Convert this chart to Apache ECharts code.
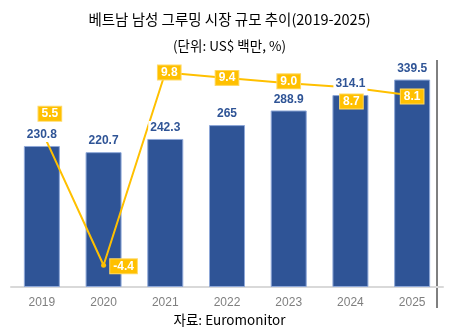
<!DOCTYPE html>
<html>
<head>
<meta charset="utf-8">
<script src="https://cdn.jsdelivr.net/npm/echarts@6/dist/echarts.min.js"></script>
<style>html,body{margin:0;padding:0;background:#fff}#c{width:459px;height:334px}</style>
</head>
<body>
<div id="c"></div>
<script>
const categories = ['2019','2020','2021','2022','2023','2024','2025'];
const marketSize = [230.8, 220.7, 242.3, 265, 288.9, 314.1, 339.5];
const growthRate = [5.5, -4.4, 9.8, 9.4, 9.0, 8.7, 8.1];
const growthLabelOffsets = [[8,-17],[20,1],[4,0],[0,0],[0,-2],[1,14],[0,1]];

const chart = echarts.init(document.getElementById('c'));
const navy = '#2F5496';
const gold = '#FFC000';

chart.setOption({
  animation: false,
  grid: {left: 11, right: 16, top: 42.6, bottom: 47},
  xAxis: {
    type: 'category',
    data: categories,
    axisLine: {lineStyle: {color: '#D9D9D9', width: 2}},
    axisTick: {show: false},
    axisLabel: {color: '#7F7F7F', fontSize: 12, margin: 10, fontFamily: 'Liberation Sans'}
  },
  yAxis: [
    {type: 'value', min: 0, max: 400, show: false, splitLine: {show: false}},
    {type: 'value', min: -6, max: 12, show: false, splitLine: {show: false}}
  ],
  series: [
    {
      type: 'bar',
      data: marketSize,
      yAxisIndex: 0,
      barWidth: 36,
      z: 1,
      itemStyle: {color: navy, borderColor: '#8FA8D8', borderWidth: 1}
    },
    {
      type: 'line',
      data: growthRate.map((v, i) => ({
        value: v,
        label: {offset: growthLabelOffsets[i]}
      })),
      yAxisIndex: 1,
      z: 3,
      symbol: 'circle',
      symbolSize: 5,
      lineStyle: {color: gold, width: 2},
      itemStyle: {color: gold},
      label: {
        show: true,
        position: 'inside',
        color: '#fff',
        fontWeight: 'bold',
        fontSize: 12,
        fontFamily: 'Liberation Sans',
        lineHeight: 12,
        backgroundColor: gold,
        borderColor: '#FFD966',
        borderWidth: 1,
        padding: [1, 3],
        formatter: p => p.value.toFixed(1)
      }
    },
    {
      type: 'bar',
      data: marketSize,
      yAxisIndex: 0,
      barWidth: 36,
      barGap: '-100%',
      z: 5,
      silent: true,
      itemStyle: {color: 'rgba(0,0,0,0)'},
      label: {
        show: true,
        position: 'top',
        distance: 4,
        color: navy,
        fontWeight: 'bold',
        fontSize: 12,
        fontFamily: 'Liberation Sans',
        backgroundColor: '#fff',
        padding: [1, 2],
        formatter: p => String(p.value)
      }
    }
  ],
  graphic: [
    {type: 'text', left: 'center', top: 12, style: {text: '베트남 남성 그루밍 시장 규모 추이(2019-2025)', font: '14.5px "Noto Sans CJK KR"', fill: '#000'}},
    {type: 'text', left: 'center', top: 39, style: {text: '(단위: US$ 백만, %)', font: '13.5px "Noto Sans CJK KR"', fill: '#000'}},
    {type: 'text', left: 'center', top: 313, style: {text: '자료: Euromonitor', font: '13.5px "Noto Sans CJK KR"', fill: '#000'}},
    {type: 'line', shape: {x1: 437, y1: 60, x2: 437, y2: 308}, style: {stroke: '#000', lineWidth: 1}}
  ]
});
</script>
</body>
</html>
